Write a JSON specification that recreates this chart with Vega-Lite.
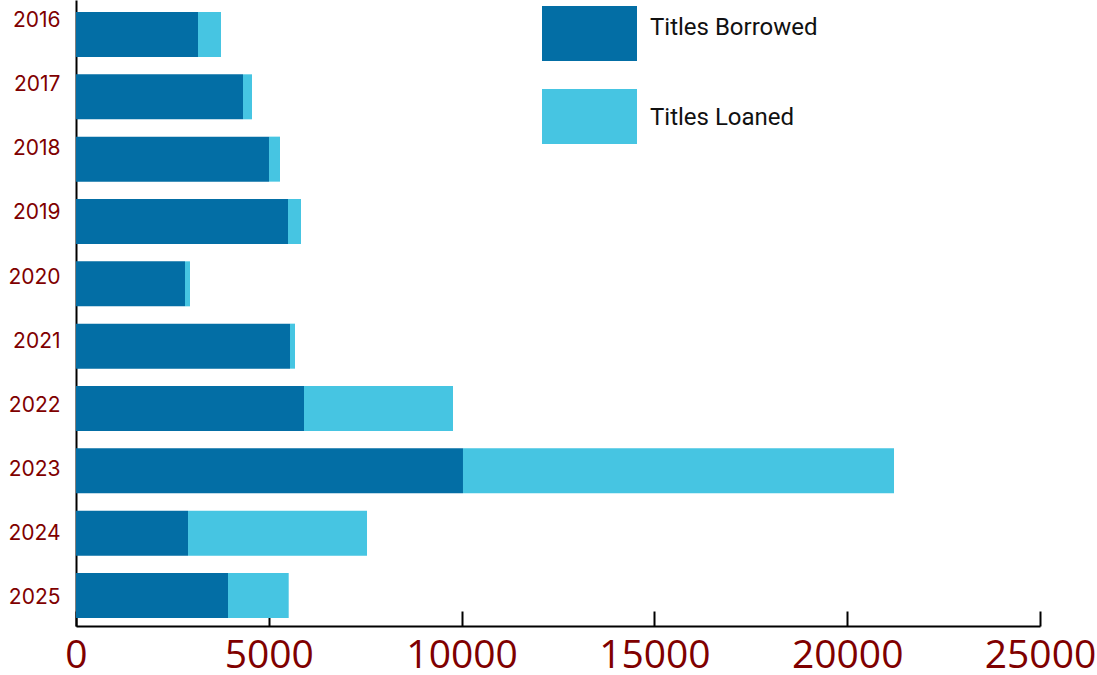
{
  "$schema": "https://vega.github.io/schema/vega-lite/v6.json",
  "width": 964,
  "height": 626,
  "autosize": {"type": "none"},
  "padding": {"left": 76, "top": 0, "right": 57, "bottom": 49},
  "background": "white",
  "config": {"view": {"stroke": null}},
  "data": {
    "values": [
      {"year": "2016", "type": "Titles Borrowed", "value": 3164},
      {"year": "2016", "type": "Titles Loaned", "value": 596},
      {"year": "2017", "type": "Titles Borrowed", "value": 4331},
      {"year": "2017", "type": "Titles Loaned", "value": 233},
      {"year": "2018", "type": "Titles Borrowed", "value": 5005},
      {"year": "2018", "type": "Titles Loaned", "value": 285},
      {"year": "2019", "type": "Titles Borrowed", "value": 5498},
      {"year": "2019", "type": "Titles Loaned", "value": 337},
      {"year": "2020", "type": "Titles Borrowed", "value": 2827},
      {"year": "2020", "type": "Titles Loaned", "value": 130},
      {"year": "2021", "type": "Titles Borrowed", "value": 5550},
      {"year": "2021", "type": "Titles Loaned", "value": 130},
      {"year": "2022", "type": "Titles Borrowed", "value": 5913},
      {"year": "2022", "type": "Titles Loaned", "value": 3864},
      {"year": "2023", "type": "Titles Borrowed", "value": 10036},
      {"year": "2023", "type": "Titles Loaned", "value": 11178},
      {"year": "2024", "type": "Titles Borrowed", "value": 2905},
      {"year": "2024", "type": "Titles Loaned", "value": 4642},
      {"year": "2025", "type": "Titles Borrowed", "value": 3942},
      {"year": "2025", "type": "Titles Loaned", "value": 1574}
    ]
  },
  "layer": [
    {
      "mark": {"type": "bar"},
      "encoding": {
        "y": {
          "field": "year",
          "type": "ordinal",
          "scale": {"paddingInner": 0.278, "paddingOuter": 0.16, "align": 0.6},
          "axis": {"orient": "left", "labels": false, "ticks": false, "title": null, "domainColor": "black", "domainWidth": 2}
        },
        "x": {
          "field": "value",
          "type": "quantitative",
          "stack": "zero",
          "scale": {"domain": [0, 25000], "nice": false},
          "axis": {
            "values": [0, 5000, 10000, 15000, 20000, 25000],
            "format": "d",
            "grid": false,
            "title": null,
            "domainColor": "black",
            "domainWidth": 2,
            "tickColor": "black",
            "tickWidth": 2,
            "tickSize": -15,
            "labelFont": "Open Sans",
            "labelFontSize": 39,
            "labelColor": "#7f0000",
            "labelPadding": 25,
            "labelFlush": false,
            "labelOverlap": false
          }
        },
        "color": {
          "field": "type",
          "type": "nominal",
          "scale": {"domain": ["Titles Borrowed", "Titles Loaned"], "range": ["#036ea5", "#46c5e2"]},
          "legend": {
            "orient": "none",
            "legendX": 466,
            "legendY": -14,
            "title": null,
            "padding": 0,
            "symbolType": "M-1,-0.579H1V0.579H-1Z",
            "symbolSize": 9025,
            "symbolStrokeWidth": 0,
            "symbolOpacity": 1,
            "labelFont": "Roboto",
            "labelFontSize": 24,
            "labelColor": "#111111",
            "labelOffset": 13,
            "labelLimit": 400,
            "rowPadding": 7,
            "encode": {"labels": {"update": {"dy": {"signal": "datum.value === 'Titles Borrowed' ? -6 : 1"}}}}
          }
        },
        "order": {"field": "type", "sort": "ascending"}
      }
    },
    {
      "mark": {"type": "point", "opacity": 0},
      "encoding": {
        "y": {
          "field": "year",
          "type": "ordinal",
          "scale": {"type": "point", "padding": 0.39, "align": 0.42},
          "axis": {
            "orient": "left",
            "domain": false,
            "ticks": false,
            "tickSize": 0,
            "title": null,
            "labelFont": "Inter",
            "labelFontSize": 21,
            "labelColor": "#7f0000",
            "labelPadding": 16
          }
        }
      }
    }
  ],
  "resolve": {"scale": {"y": "independent"}}
}
